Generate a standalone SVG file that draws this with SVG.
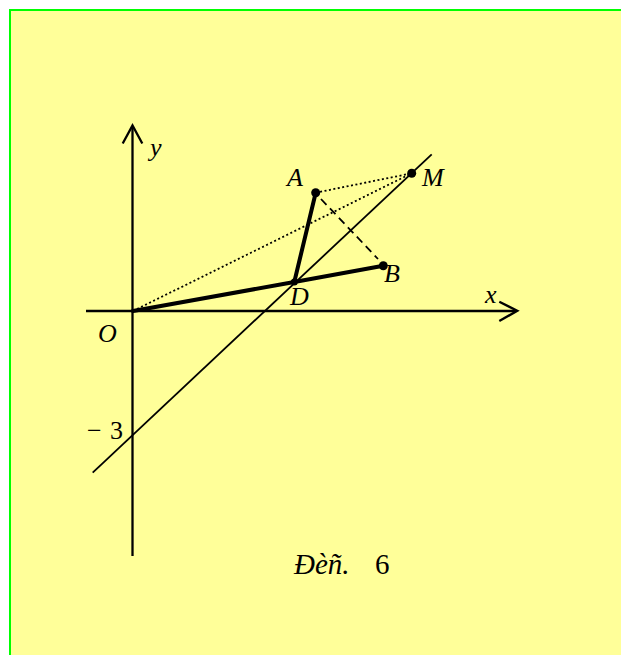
<svg xmlns="http://www.w3.org/2000/svg" width="621" height="655" viewBox="0 0 621 655">
<style>
.t{font-family:"Liberation Serif","Times New Roman",serif;font-size:26px;fill:#000}
.c{font-size:29px}
.i{font-style:italic}
.ax{stroke:#000;stroke-width:2.3;fill:none}
.th{stroke:#000;stroke-width:4;fill:none;stroke-linecap:round}
.ln{stroke:#000;stroke-width:1.8;fill:none}
.dot{stroke:#000;stroke-width:1.8;stroke-dasharray:2 2.5;fill:none}
.dash{stroke:#000;stroke-width:1.8;stroke-dasharray:8 5;fill:none}
.pt{fill:#000}
</style>
<rect x="0" y="0" width="621" height="655" fill="#ffffff"/>
<rect x="10" y="10" width="640" height="680" fill="#ffff99" stroke="#00ff00" stroke-width="2"/>
<g id="axes">
<line class="ax" x1="132.5" y1="126" x2="132.5" y2="556"/>
<polyline class="ax" points="122.7,143.5 132.5,125.5 142.3,143.5"/>
<line class="ax" x1="86" y1="311" x2="516" y2="311"/>
<polyline class="ax" points="499.3,301.7 517.3,310.8 499.3,321"/>
</g>
<g id="connectors">
<line class="ln" x1="92.7" y1="472.7" x2="431.7" y2="154.3"/>
<line class="dot" x1="133" y1="311" x2="411.7" y2="173.3"/>
<line class="dot" x1="315.7" y1="192.7" x2="411.7" y2="173.3"/>
<line class="dash" x1="321" y1="199" x2="378" y2="259"/>
<line class="th" x1="133" y1="311" x2="294.3" y2="282"/>
<line class="th" x1="294.3" y1="282" x2="383.3" y2="265.7"/>
<line class="th" x1="294.3" y1="282" x2="315.7" y2="192.7"/>
</g>
<g id="pointA"><circle class="pt" cx="315.7" cy="192.7" r="4.5"/><text class="t i" x="287" y="186">A</text></g>
<g id="pointM"><circle class="pt" cx="411.7" cy="173.3" r="4.5"/><text class="t i" x="422" y="186">M</text></g>
<g id="pointB"><circle class="pt" cx="383.3" cy="265.7" r="4.5"/><text class="t i" x="384" y="282">B</text></g>
<g id="pointD"><circle class="pt" cx="294.3" cy="282" r="3.5"/><text class="t i" x="290" y="305">D</text></g>
<g id="labels">
<text class="t i" x="150" y="156">y</text>
<text class="t i" x="485" y="303">x</text>
<text class="t i" x="98" y="342">O</text>
<text class="t" x="87" y="439">−<tspan x="110">3</tspan></text>
<text class="t c" x="294" y="574"><tspan class="i">Đèñ.</tspan><tspan x="375">6</tspan></text>
</g>
</svg>
